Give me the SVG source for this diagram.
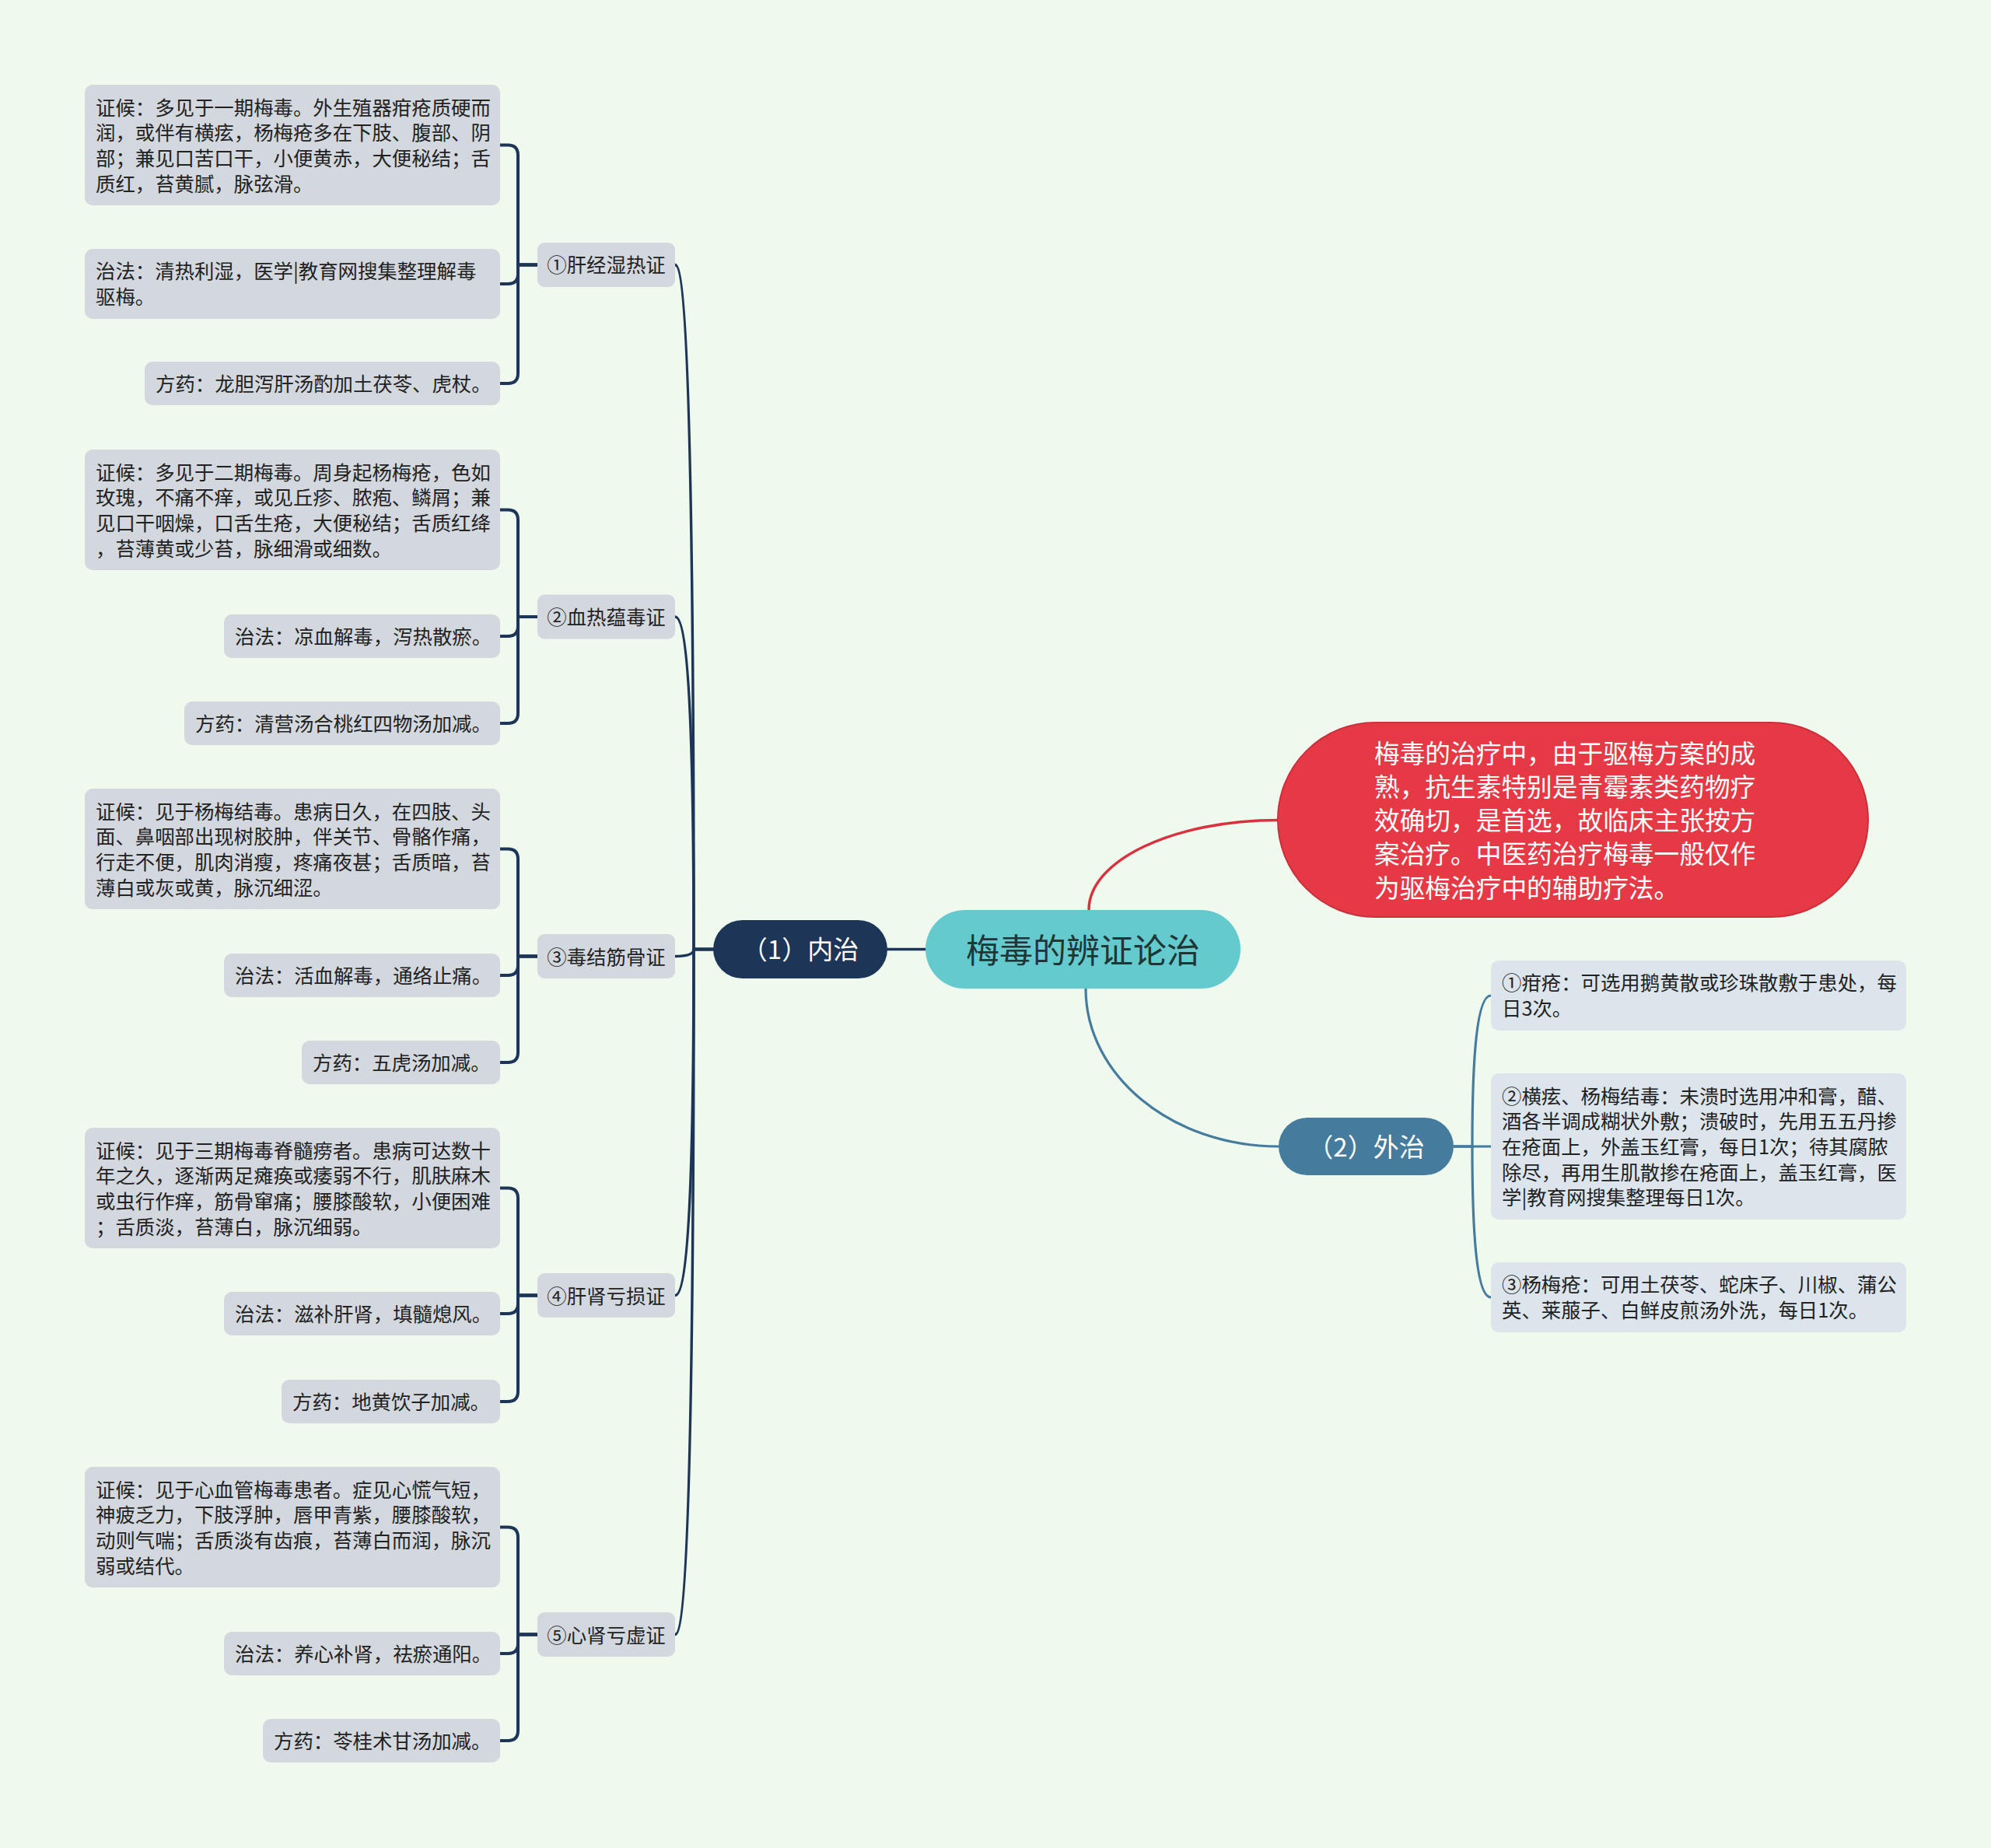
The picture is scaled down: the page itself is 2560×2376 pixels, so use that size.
<svg xmlns="http://www.w3.org/2000/svg" width="2560" height="2376" viewBox="0 0 2560 2376">
<style>
text{font-family:"Noto Sans CJK SC","Noto Sans",sans-serif;dominant-baseline:central}
.leafL{fill:#d3d7de}
.leafR{fill:#dce4ec}
.branch{fill:#d3d7de}
.t{font-size:25.4px;fill:#222222}
.tb{font-size:25.4px;fill:#222222;text-anchor:middle}
.navy{fill:none;stroke:#1d3557;stroke-width:3.5;stroke-linecap:round;stroke-linejoin:round}
.br{fill:none;stroke:#1d3557;stroke-width:4;stroke-linecap:butt;stroke-linejoin:round}
.blue{fill:none;stroke:#457b9d;stroke-width:3.2}
.red{fill:none;stroke:#d8323f;stroke-width:3.5}
</style>
<rect x="0" y="0" width="2560" height="2376" fill="#f0f9ee"/>

<g id="connectors">
  <path class="navy" d="M1141,1220.5 H1190"/>
  <path class="navy" d="M917,1220.5 H892 C892,697 886,340.5 868,340.5"/>
  <path class="navy" d="M917,1220.5 H892 C892,966 886,793 868,793"/>
  <path class="navy" d="M917,1220.5 H892 C892,1226 886,1229.5 868,1229.5"/>
  <path class="navy" d="M917,1220.5 H892 C892,1485 886,1665.5 868,1665.5"/>
  <path class="navy" d="M917,1220.5 H892 C892,1745 886,2101.5 868,2101.5"/>
  <path class="red" d="M1400,1170 C1400,1106 1509,1054.5 1643,1054.5"/>
  <path class="blue" d="M1396,1271 C1396,1383 1507,1474 1644,1474"/>
  <path class="blue" d="M1869,1474 H1917"/>
  <path class="blue" d="M1869,1474 H1893 C1893,1358.6 1899,1280 1917,1280"/>
  <path class="blue" d="M1869,1474 H1893 C1893,1589.4 1899,1668 1917,1668"/>
  <path class="br" d="M691,340.5 H666 V199.5 Q666,186.5 653,186.5 H643"/>
  <path class="br" d="M691,340.5 H666 V352 Q666,365 653,365 H643"/>
  <path class="br" d="M691,340.5 H666 V480 Q666,493 653,493 H643"/>
  <path class="br" d="M691,793 H666 V668.5 Q666,655.5 653,655.5 H643"/>
  <path class="br" d="M691,793 H666 V805 Q666,818 653,818 H643"/>
  <path class="br" d="M691,793 H666 V917 Q666,930 653,930 H643"/>
  <path class="br" d="M691,1229.5 H666 V1104.5 Q666,1091.5 653,1091.5 H643"/>
  <path class="br" d="M691,1229.5 H666 V1241 Q666,1254 653,1254 H643"/>
  <path class="br" d="M691,1229.5 H666 V1353 Q666,1366 653,1366 H643"/>
  <path class="br" d="M691,1665.5 H666 V1540.5 Q666,1527.5 653,1527.5 H643"/>
  <path class="br" d="M691,1665.5 H666 V1676 Q666,1689 653,1689 H643"/>
  <path class="br" d="M691,1665.5 H666 V1789 Q666,1802 653,1802 H643"/>
  <path class="br" d="M691,2101.5 H666 V1976.5 Q666,1963.5 653,1963.5 H643"/>
  <path class="br" d="M691,2101.5 H666 V2113 Q666,2126 653,2126 H643"/>
  <path class="br" d="M691,2101.5 H666 V2225 Q666,2238 653,2238 H643"/>
</g>

<g id="root">
  <rect x="1190" y="1170" width="405" height="101" rx="50.5" fill="#64cacd"/>
  <text x="1392.5" y="1219" font-size="43" fill="#1f3536" text-anchor="middle">梅毒的辨证论治</text>
</g>

<g id="note">
  <rect x="1643" y="929" width="759" height="250" rx="125" fill="#e63946" stroke="#cc2f3c" stroke-width="2"/>
  <text x="1767" font-size="32.7" fill="#ffffff">
    <tspan x="1767" y="965.5">梅毒的治疗中，由于驱梅方案的成</tspan>
    <tspan x="1767" y="1008.8">熟，抗生素特别是青霉素类药物疗</tspan>
    <tspan x="1767" y="1052.1">效确切，是首选，故临床主张按方</tspan>
    <tspan x="1767" y="1095.4">案治疗。中医药治疗梅毒一般仅作</tspan>
    <tspan x="1767" y="1138.7">为驱梅治疗中的辅助疗法。</tspan>
  </text>
</g>

<g id="neizhi">
  <rect x="917" y="1183" width="224" height="75" rx="37.5" fill="#1d3557"/>
  <text x="1029" y="1219" font-size="33" fill="#ffffff" text-anchor="middle">（1）内治</text>
</g>

<g id="waizhi">
  <rect x="1644" y="1437" width="225" height="74" rx="37" fill="#457b9d"/>
  <text x="1756.5" y="1473" font-size="33" fill="#ffffff" text-anchor="middle">（2）外治</text>
</g>

<g id="b1">
  <rect class="branch" x="691" y="312" width="177" height="57" rx="9"/>
  <text class="tb" x="779.5" y="339">①肝经湿热证</text>
</g>
<g id="b1-1">
  <rect class="leafL" x="109" y="109" width="534" height="155" rx="10"/>
  <text class="t"><tspan x="123" y="136.5">证候：多见于一期梅毒。外生殖器疳疮质硬而</tspan><tspan x="123" y="169.2">润，或伴有横痃，杨梅疮多在下肢、腹部、阴</tspan><tspan x="123" y="201.9">部；兼见口苦口干，小便黄赤，大便秘结；舌</tspan><tspan x="123" y="234.6">质红，苔黄腻，脉弦滑。</tspan></text>
</g>
<g id="b1-2">
  <rect class="leafL" x="109" y="320" width="534" height="90" rx="10"/>
  <text class="t"><tspan x="123" y="347">治法：清热利湿，医学|教育网搜集整理解毒</tspan><tspan x="123" y="379.7">驱梅。</tspan></text>
</g>
<g id="b1-3">
  <rect class="leafL" x="186" y="465" width="457" height="56" rx="10"/>
  <text class="t" x="200" y="492">方药：龙胆泻肝汤酌加土茯苓、虎杖。</text>
</g>

<g id="b2">
  <rect class="branch" x="691" y="764.5" width="177" height="57" rx="9"/>
  <text class="tb" x="779.5" y="792">②血热蕴毒证</text>
</g>
<g id="b2-1">
  <rect class="leafL" x="109" y="578" width="534" height="155" rx="10"/>
  <text class="t"><tspan x="123" y="605.5">证候：多见于二期梅毒。周身起杨梅疮，色如</tspan><tspan x="123" y="638.2">玫瑰，不痛不痒，或见丘疹、脓疱、鳞屑；兼</tspan><tspan x="123" y="670.9">见口干咽燥，口舌生疮，大便秘结；舌质红绛</tspan><tspan x="123" y="703.6">，苔薄黄或少苔，脉细滑或细数。</tspan></text>
</g>
<g id="b2-2">
  <rect class="leafL" x="288" y="790" width="355" height="56" rx="10"/>
  <text class="t" x="302" y="817">治法：凉血解毒，泻热散瘀。</text>
</g>
<g id="b2-3">
  <rect class="leafL" x="237" y="902" width="406" height="56" rx="10"/>
  <text class="t" x="251" y="929">方药：清营汤合桃红四物汤加减。</text>
</g>

<g id="b3">
  <rect class="branch" x="691" y="1201" width="177" height="57" rx="9"/>
  <text class="tb" x="779.5" y="1228.5">③毒结筋骨证</text>
</g>
<g id="b3-1">
  <rect class="leafL" x="109" y="1014" width="534" height="155" rx="10"/>
  <text class="t"><tspan x="123" y="1041.5">证候：见于杨梅结毒。患病日久，在四肢、头</tspan><tspan x="123" y="1074.2">面、鼻咽部出现树胶肿，伴关节、骨骼作痛，</tspan><tspan x="123" y="1106.9">行走不便，肌肉消瘦，疼痛夜甚；舌质暗，苔</tspan><tspan x="123" y="1139.6">薄白或灰或黄，脉沉细涩。</tspan></text>
</g>
<g id="b3-2">
  <rect class="leafL" x="288" y="1226" width="355" height="56" rx="10"/>
  <text class="t" x="302" y="1253">治法：活血解毒，通络止痛。</text>
</g>
<g id="b3-3">
  <rect class="leafL" x="388" y="1338" width="255" height="56" rx="10"/>
  <text class="t" x="402" y="1365">方药：五虎汤加减。</text>
</g>

<g id="b4">
  <rect class="branch" x="691" y="1637" width="177" height="57" rx="9"/>
  <text class="tb" x="779.5" y="1664.5">④肝肾亏损证</text>
</g>
<g id="b4-1">
  <rect class="leafL" x="109" y="1450" width="534" height="155" rx="10"/>
  <text class="t"><tspan x="123" y="1477.5">证候：见于三期梅毒脊髓痨者。患病可达数十</tspan><tspan x="123" y="1510.2">年之久，逐渐两足瘫痪或痿弱不行，肌肤麻木</tspan><tspan x="123" y="1542.9">或虫行作痒，筋骨窜痛；腰膝酸软，小便困难</tspan><tspan x="123" y="1575.6">；舌质淡，苔薄白，脉沉细弱。</tspan></text>
</g>
<g id="b4-2">
  <rect class="leafL" x="288" y="1661" width="355" height="56" rx="10"/>
  <text class="t" x="302" y="1688">治法：滋补肝肾，填髓熄风。</text>
</g>
<g id="b4-3">
  <rect class="leafL" x="362" y="1774" width="281" height="56" rx="10"/>
  <text class="t" x="376" y="1801">方药：地黄饮子加减。</text>
</g>

<g id="b5">
  <rect class="branch" x="691" y="2073" width="177" height="57" rx="9"/>
  <text class="tb" x="779.5" y="2100.5">⑤心肾亏虚证</text>
</g>
<g id="b5-1">
  <rect class="leafL" x="109" y="1886" width="534" height="155" rx="10"/>
  <text class="t"><tspan x="123" y="1913.5">证候：见于心血管梅毒患者。症见心慌气短，</tspan><tspan x="123" y="1946.2">神疲乏力，下肢浮肿，唇甲青紫，腰膝酸软，</tspan><tspan x="123" y="1978.9">动则气喘；舌质淡有齿痕，苔薄白而润，脉沉</tspan><tspan x="123" y="2011.6">弱或结代。</tspan></text>
</g>
<g id="b5-2">
  <rect class="leafL" x="288" y="2098" width="355" height="56" rx="10"/>
  <text class="t" x="302" y="2125">治法：养心补肾，祛瘀通阳。</text>
</g>
<g id="b5-3">
  <rect class="leafL" x="338" y="2210" width="305" height="56" rx="10"/>
  <text class="t" x="352" y="2237">方药：苓桂术甘汤加减。</text>
</g>

<g id="w1">
  <rect class="leafR" x="1917" y="1235" width="534" height="90" rx="10"/>
  <text class="t"><tspan x="1931" y="1262">①疳疮：可选用鹅黄散或珍珠散敷于患处，每</tspan><tspan x="1931" y="1294.7">日3次。</tspan></text>
</g>
<g id="w2">
  <rect class="leafR" x="1917" y="1380" width="534" height="188" rx="10"/>
  <text class="t"><tspan x="1931" y="1407.6">②横痃、杨梅结毒：未溃时选用冲和膏，醋、</tspan><tspan x="1931" y="1440.3">酒各半调成糊状外敷；溃破时，先用五五丹掺</tspan><tspan x="1931" y="1473">在疮面上，外盖玉红膏，每日1次；待其腐脓</tspan><tspan x="1931" y="1505.7">除尽，再用生肌散掺在疮面上，盖玉红膏，医</tspan><tspan x="1931" y="1538.4">学|教育网搜集整理每日1次。</tspan></text>
</g>
<g id="w3">
  <rect class="leafR" x="1917" y="1623" width="534" height="90" rx="10"/>
  <text class="t"><tspan x="1931" y="1650">③杨梅疮：可用土茯苓、蛇床子、川椒、蒲公</tspan><tspan x="1931" y="1682.7">英、莱菔子、白鲜皮煎汤外洗，每日1次。</tspan></text>
</g>
</svg>
